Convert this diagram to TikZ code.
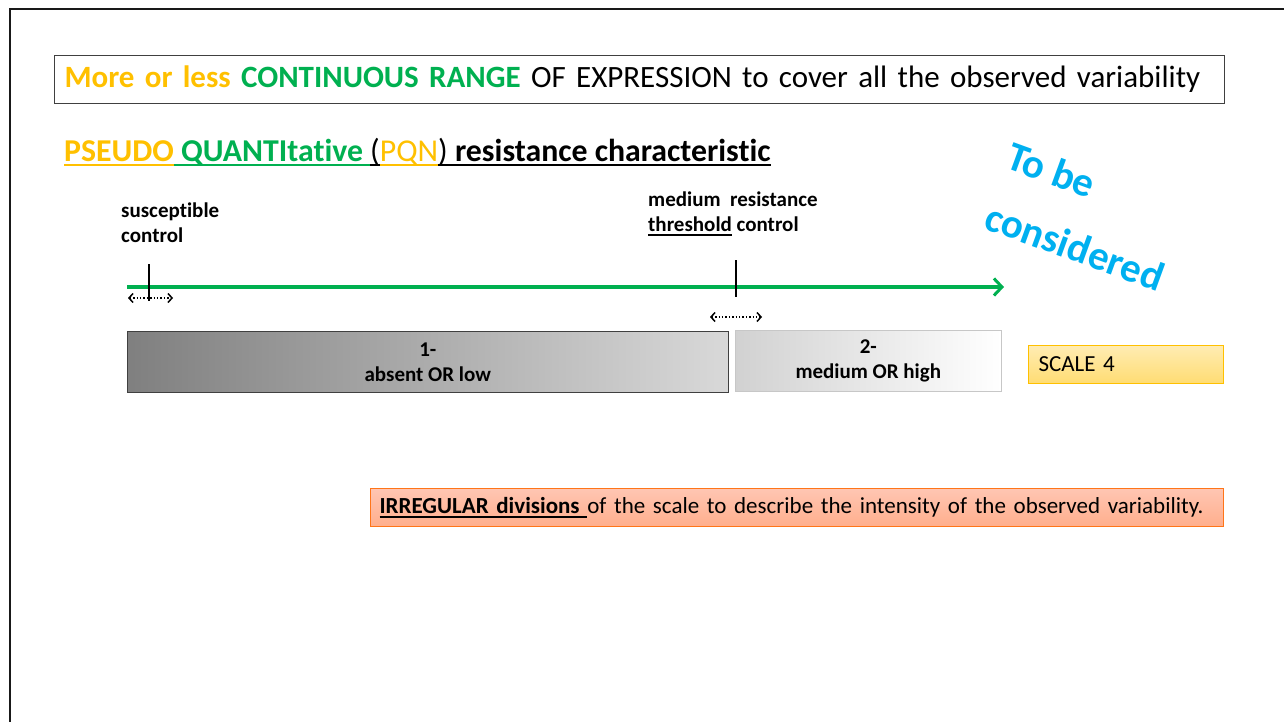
\documentclass[tikz,border=0pt]{standalone}
\usepackage{fontspec}
\setmainfont{Carlito}[Ligatures=NoCommon]
\usetikzlibrary{arrows.meta,positioning}

\definecolor{pqnorange}{HTML}{FFC000}
\definecolor{pqngreen}{HTML}{00B050}
\definecolor{pqnblue}{HTML}{00B0F0}

% underline with a fixed depth and its own colour
\newcommand\pqnul[2][black]{\sbox0{#2}\rlap{\color{#1}\rule[-4.5pt]{\wd0}{2pt}}\usebox0}

\tikzset{
  framebox/.style={draw=black!75, line width=1pt, anchor=north west, inner xsep=10pt, align=left},
  label text/.style={inner sep=0pt, anchor=north west, align=left, font=\bfseries\fontsize{21}{25}\selectfont},
  gray box/.style={draw, anchor=north west, align=center, line width=0.6pt, font=\bfseries\fontsize{21}{25}\selectfont},
  tick/.style={line width=1.3pt},
  range arrow/.style={dotted, line width=1.4pt, {Straight Barb[length=4pt, width=9pt, line width=1.5pt]}-{Straight Barb[length=4pt, width=9pt, line width=1.5pt]}},
  consider/.style={inner sep=0pt, anchor=base west, rotate=-20, align=left, text=pqnblue, font=\bfseries\fontsize{41}{64}\selectfont}
}

\begin{document}
\begin{tikzpicture}[x=1pt, y=-1pt]
\useasboundingbox (0,0) rectangle (1284,722);

% slide frame
\draw[line width=2.8pt, black!90] (10,722) -- (10,9) -- (1284,9);

% title
\node[framebox, minimum width=1170, minimum height=48, text width=1150, font=\fontsize{31}{34}\selectfont] (title) at (54,55)
  {{\bfseries\color{pqnorange}More or less} {\bfseries\color{pqngreen}CONTINUOUS RANGE} OF EXPRESSION to cover all the observed variability};

% heading
\node[inner sep=0pt, anchor=base west, font=\fontsize{31.8}{34}\selectfont] (heading) at (64,162)
  {\pqnul[pqnorange]{\bfseries\color{pqnorange}PSEUDO}\pqnul[pqngreen]{\bfseries\ \color{pqngreen}QUANTItative\ }\pqnul{(}\pqnul[pqnorange]{\color{pqnorange}PQN}\pqnul{)\bfseries\ resistance characteristic}};

% labels above the scale
\node[label text] (susc) at (121,203) {susceptible\\control};
\node[label text] (medium) at (648,192) {medium\ \ resistance\\\pqnul{threshold} control};

% the scale
\coordinate (scalestart) at (127,287);
\coordinate (scaleend) at (1004,287);
\draw[pqngreen, line width=3.8pt, -{Straight Barb[length=8pt, width=17pt, line width=3pt]}] (scalestart) -- (scaleend);

\coordinate (susctop) at (149,264);
\coordinate (suscbot) at (149,301);
\draw[tick] (susctop) -- (suscbot);
\coordinate (medtop) at (736,260);
\coordinate (medbot) at (736,297);
\draw[tick] (medtop) -- (medbot);

\coordinate (suscl) at (128,298);
\coordinate (suscr) at (173,298);
\draw[range arrow] (suscl) -- (suscr);
\coordinate (medl) at (710,317);
\coordinate (medr) at (762,317);
\draw[range arrow] (medl) -- (medr);

% classes
\node[gray box, draw=black!75, left color=black!50, right color=black!15, minimum width=601, minimum height=61] (low) at (127,331) {1-\\absent OR low};
\node[gray box, draw=black!22, left color=black!18, right color=white, minimum width=266, minimum height=61] (high) at (735,330) {2-\\medium OR high};

\node[framebox, draw=pqnorange, top color=pqnorange!30, bottom color=pqnorange!55, minimum width=195, minimum height=38, text width=175, font=\fontsize{23}{26}\selectfont] (scale) at (1028,345) {SCALE 4};

\node[framebox, draw=orange!80!red!90, top color=orange!50!red!30, bottom color=orange!60!red!45, minimum width=853, minimum height=38, inner xsep=9pt, text width=835, font=\fontsize{23}{26}\selectfont] (irregular) at (370,488)
  {\pqnul{\bfseries IRREGULAR divisions }of the scale to describe the intensity of the observed variability.};

% remark
\node[consider] (remark) at (982,228) {To be\\considered};
\end{tikzpicture}
\end{document}
